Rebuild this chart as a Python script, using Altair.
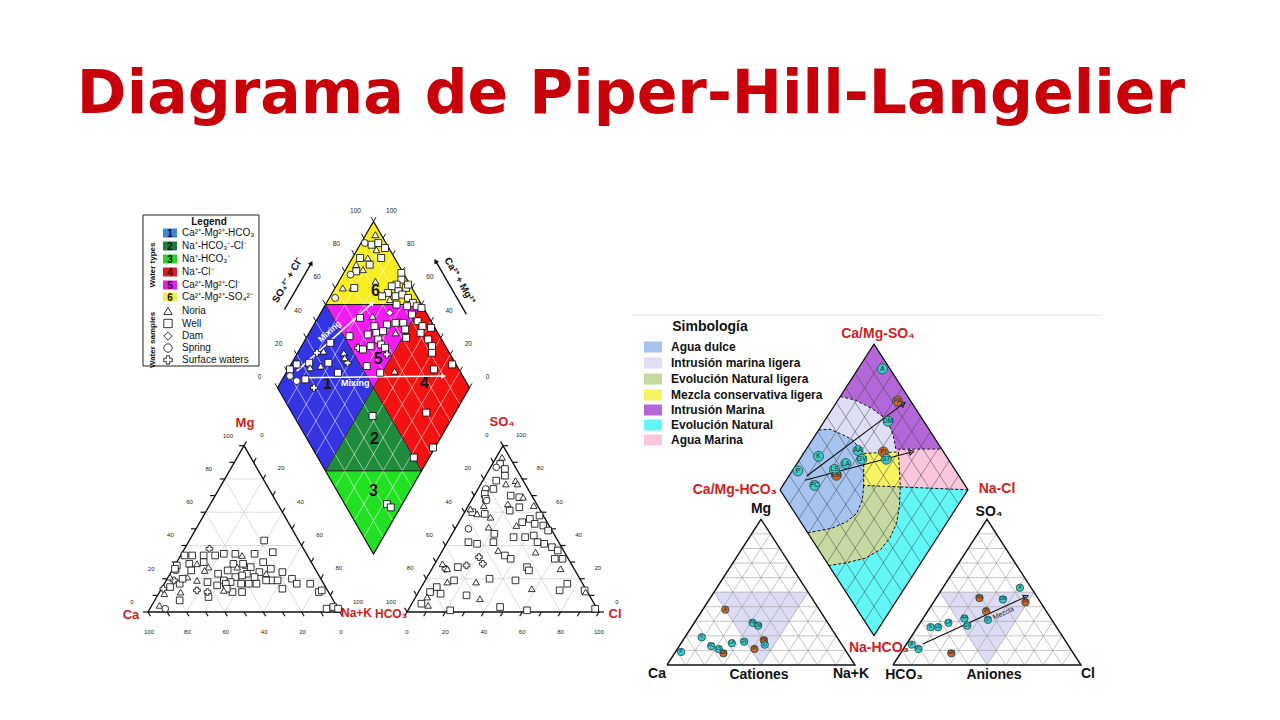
import math
import pandas as pd
import altair as alt

# =========================== DATA ===========================
TITLE = "Diagrama de Piper-Hill-Langelier"

# ---------- Figure 1 (left) ----------
F1_TYPE_NUMBERS = ["1", "2", "3", "4", "5", "6"]
F1_TYPE_LABELS = ["Ca²⁺-Mg²⁺-HCO₃", "Na⁺-HCO₃⁻-Cl⁻", "Na⁺-HCO₃⁻", "Na⁺-Cl⁻",
                  "Ca²⁺-Mg²⁺-Cl⁻", "Ca²⁺-Mg²⁺-SO₄²⁻"]
F1_SAMPLE_NAMES = ["Noria", "Well", "Dam", "Spring", "Surface waters"]
F1_SAMPLE_CODES = ["T", "W", "D", "S", "P"]
F1_TICK_VALUES = [0, 20, 40, 60, 80, 100]

# water-type fields of the diamond, corners as (Na+K %, SO4+Cl %)
F1_FIELDS = [
    [(0, 0), (0, 50), (50, 50), (50, 0)],          # 1
    [(50, 50), (50, 0), (100, 50)],                # 2
    [(50, 0), (100, 0), (100, 50)],                # 3
    [(50, 50), (50, 100), (100, 100), (100, 50)],  # 4
    [(0, 50), (50, 100), (50, 50)],                # 5
    [(0, 100), (0, 50), (50, 100)],                # 6
]
F1_FIELD_LABEL_NAK = [25, 66, 81, 75, 44, 22]
F1_FIELD_LABEL_ANI = [27, 35, 19, 78, 61, 80]

# diamond samples: Na+K %, SO4+Cl %, kind
D1_NAK = [5, 2, 6, 9, 10, 14, 4, 8, 15, 4, 6, 4, 9, 11, 9, 4, 10, 3, 19, 30,
          32, 31, 29, 34, 37, 37, 29, 34, 37, 41, 45, 43, 48, 51, 37, 32, 27, 36,
          22, 28, 32, 38, 42, 46, 48, 31, 35, 38, 45, 49, 22, 30, 33, 36, 38, 41, 44, 47, 40, 49, 52,
          53, 57, 62, 58, 64, 68, 70, 84, 76, 56, 85, 99, 92,
          1, 3, 3, 8, 12, 9, 10, 13, 14, 16, 19, 27, 24, 29, 26, 19, 11,
          58, 92, 95]
D1_ANI = [97, 89, 92, 96, 93, 98, 82, 86, 93, 78, 76, 72, 80, 85, 69, 64, 70, 57, 83, 99,
          97, 93, 90, 92, 97, 99, 86, 89, 93, 95, 96, 92, 97, 99, 87, 85, 82, 81,
          64, 71, 69, 76, 81, 85, 92, 63, 68, 72, 78, 84, 53, 54, 56, 61, 67, 67, 68, 67, 53, 58, 82,
          93, 94, 98, 91, 93, 93, 91, 98, 87, 66, 70, 63, 50,
          12, 17, 10, 12, 17, 24, 31, 35, 41, 29, 34, 36, 45, 44, 44, 19, 23,
          41, 22, 23]
D1_KIND = ("TSWWTWWTWT" "WSTWTTWSTW" "WWWWWWWWWW" "WWWWWTWD"
           "WTWWWWWWWWTWWPWWWWWPWWW" "WWWWWWWWWTWWW" "WWSSWWPTWTWWTPTPT" "WWW")

# cation triangle samples: Mg %, Na+K %, kind
C1_MG = [43, 36, 35, 35, 34, 35, 34, 38, 34, 34, 34, 28, 29, 29, 30, 27, 29, 28, 30, 26,
         24, 20, 17, 17, 12, 13, 14, 19, 23, 24, 21, 23, 22, 21, 18, 19, 16, 17, 17, 17,
         17, 19, 19, 12, 12, 9, 12, 18, 19, 13, 17, 7, 12, 15, 19, 25, 26, 21, 11, 14,
         4, 2, 2, 3, 2, 21, 20, 25, 25, 23, 25, 27, 29, 27, 14, 13]
C1_NAK = [39, 47, 38, 22, 18, 28, 32, 13, 2, 6, 12, 1, 7, 11, 14, 18, 30, 37, 45, 51,
          58, 65, 69, 76, 83, 84, 63, 55, 50, 46, 45, 40, 38, 35, 34, 30, 28, 32, 40, 44,
          48, 52, 58, 43, 38, 27, 25, 22, 16, 19, 8, 13, 11, 4, 4, 2, 1, 1, 3, 1,
          4, 8, 92, 95, 98, 10, 8, 10, 17, 25, 29, 33, 35, 40, 34, 33]
C1_KIND = ("WWWWWWTPWW" "WWWTWTWTWW" "WWWWWWWWTW" "WWWWWWWWWW"
           "WWWWWWPWTP" "WWTWPSWTTP" "TSWWWTWWTW" "WTWWWT")

# anion triangle samples: SO4 %, Cl %, kind
A1_SO4 = [93, 89, 87, 86, 82, 77, 79, 79, 77, 74, 71, 74, 64, 68, 67, 60, 59, 57, 59, 62,
          70, 69, 69, 65, 61, 63, 64, 58, 54, 52, 56, 53, 52, 49, 50, 51, 42, 41, 47, 42,
          45, 45, 46, 42, 41, 39, 37, 37, 34, 32, 36, 32, 32, 33, 29, 28, 27, 26, 29, 26,
          27, 25, 26, 19, 18, 20, 18, 19, 15, 12, 11, 9, 5, 4, 10, 8, 14, 17, 13, 13,
          1, 3, 1, 2, 12]
A1_CL = [3, 4, 3, 8, 10, 13, 7, 17, 19, 4, 5, 8, 8, 7, 8, 4, 7, 15, 11, 2,
         19, 24, 26, 20, 23, 27, 34, 40, 33, 31, 36, 40, 45, 49, 7, 17, 11, 16, 22, 24,
         33, 39, 43, 47, 51, 56, 60, 29, 34, 38, 49, 61, 65, 21, 25, 17, 13, 7, 4, 8,
         49, 51, 67, 15, 12, 33, 27, 47, 8, 6, 12, 6, 5, 9, 26, 34, 58, 75, 73, 86,
         22, 47, 62, 97, 87]
A1_KIND = ("TWSWWTWTTS" "WWTWSWTTWT" "WWTTWWTWWT" "WWWWSTWWWW"
           "WWWWWWWTWW" "TWWPPPWPTT" "WWTWTWTWWW" "WTWTWTTWWW" "WWWWT")

# mixing arrows (Na+K %, SO4+Cl %)
F1_MIX_ARROWS = [((5, 15), (24, 75)), ((10, 16), (83, 90))]
F1_MIX_LABELS = [(10, 44), (39, 42)]

# ---------- Figure 2 (right) ----------
F2_REGIONS = ["Agua dulce", "Intrusión marina ligera", "Evolución Natural ligera",
              "Mezcla conservativa ligera", "Intrusión Marina", "Evolución Natural", "Agua Marina"]
F2_REGION_SHAPES = {
    "Intrusión Marina": [(0, 0), (0, 100), (100, 100), (100, 0)],
    "Intrusión marina ligera": [(0, 0), (0, 64), (9, 70.7), (20.8, 76.7), (30, 80), (38, 80),
                                (43.7, 77.9), (47.6, 75.5), (50, 76), (63, 65)],
    "Agua Marina": [(47.6, 75.5), (72, 100), (100, 100), (63, 65), (50, 76)],
    "Evolución Natural": [(63, 65), (100, 100), (100, 0), (52, 0), (60.5, 10.5), (68.7, 21.7),
                          (74, 33), (75, 42), (73.5, 50.5), (69, 58)],
    "Evolución Natural ligera": [(43, 46), (63, 65), (69, 58), (73.5, 50.5), (75, 42), (74, 33),
                                 (68.7, 21.7), (60.5, 10.5), (52, 0), (29.5, 0), (34.4, 6.3),
                                 (40.7, 14.3), (46.4, 24.5), (48.9, 32.8), (47.3, 40.3)],
    "Mezcla conservativa ligera": [(32, 57), (50, 76), (63, 65), (43, 46)],
    "Agua dulce": [(0, 0), (0, 41), (5.8, 47.4), (14, 52), (20.8, 55.5), (26.9, 56.5), (32, 57),
                   (43, 46), (47.3, 40.3), (48.9, 32.8), (46.4, 24.5), (40.7, 14.3), (34.4, 6.3),
                   (29.5, 0)],
}
F2_DRAW_ORDER = ["Intrusión Marina", "Intrusión marina ligera", "Agua Marina", "Evolución Natural",
                 "Evolución Natural ligera", "Mezcla conservativa ligera", "Agua dulce"]
F2_BOUNDARIES = [
    [(0, 64), (9, 70.7), (20.8, 76.7), (30, 80), (38, 80), (43.7, 77.9), (47.6, 75.5), (72, 100)],
    [(0, 41), (5.8, 47.4), (14, 52), (20.8, 55.5), (26.9, 56.5), (32, 57)],
    [(32, 57), (50, 76), (63, 65), (43, 46), (32, 57)],
    [(43, 46), (47.3, 40.3), (48.9, 32.8), (46.4, 24.5), (40.7, 14.3), (34.4, 6.3), (29.5, 0)],
    [(63, 65), (69, 58), (73.5, 50.5), (75, 42), (74, 33), (68.7, 21.7), (60.5, 10.5), (52, 0)],
    [(63, 65), (100, 100)],
]

F2_DIA_NAMES = ["A", "PA", "DM", "AA", "PI", "GV", "S7", "LA", "EM", "LS", "K", "P", "PC"]
F2_DIA_NAK = [13, 32, 34, 28, 42, 33, 46, 26, 25, 22, 9, 3, 17]
F2_DIA_ANI = [96, 93, 81, 55, 68, 54, 67, 44, 35, 36, 32, 16, 20]
F2_DIA_GRP = ["t", "o", "t", "t", "o", "t", "t", "t", "o", "t", "t", "t", "t"]

F2_CAT_NAMES = ["A", "PA", "DM", "K", "P", "PC", "EM", "LS", "LA", "GV", "PI", "PM", "S7"]
F2_CAT_MG = [38, 29, 27, 19, 9, 13, 8, 11, 15, 16, 11, 17, 14]
F2_CAT_NAK = [12, 31, 35, 9, 3, 17, 26, 22, 27, 33, 41, 43, 45]
F2_CAT_GRP = ["o", "t", "t", "t", "t", "t", "o", "t", "t", "t", "o", "o", "t"]

F2_ANI_NAMES = ["A", "PM", "DM", "PA", "PI", "S7", "AA", "GV", "LA", "K", "LS", "P", "PC", "EM"]
F2_ANI_SO4 = [53, 46, 45, 43, 37, 31, 32, 27, 29, 26, 26, 14, 11, 8]
F2_ANI_CL = [41, 23, 36, 49, 31, 35, 22, 26, 15, 7, 11, 3, 8, 27]
F2_ANI_GRP = ["t", "o", "t", "o", "o", "t", "t", "t", "t", "t", "t", "t", "t", "o"]

F2_DIA_ARROWS = [((9.5, 19), (36, 95)), ((10, 16.6), (57, 83))]
F2_ANI_ARROW = ((14.4, 8.6), (46.9, 47.3))
F2_ANI_ARROW_LABEL = (35.5, 41)

# =========================== STYLE ===========================
RED_TITLE = "#c8000a"
RED_LAB = "#d02020"
F1_FIELD_COLORS = ["#3434e2", "#1f8c3c", "#22e022", "#f21212", "#f21cf2", "#f6ee22"]
F1_CHIP_COLORS = ["#3a86d8", "#1e7a3e", "#2bd42b", "#d81e1e", "#e61ee6", "#f5ee50"]
F2_COLORS = {"Agua dulce": "#a7c3f0", "Intrusión marina ligera": "#dedff7",
             "Evolución Natural ligera": "#c5d9a1", "Mezcla conservativa ligera": "#f6f462",
             "Intrusión Marina": "#b467d8", "Evolución Natural": "#62f6f6", "Agua Marina": "#f9c6dd"}
TEAL, ORANGE = "#3ec9c9", "#d2642a"
SHAPES = {"T": "triangle-up", "W": "square", "D": "diamond", "S": "circle", "P": "cross"}
ARIAL = "Liberation Sans"

# =========================== GEOMETRY ===========================
SQ = math.sqrt(3) / 2


class Piper:
    def __init__(self, x0, base, side, gap, k=1.0):
        self.x0, self.base, self.side, self.gap, self.k = x0, base, side, gap, k
        self.h = side * SQ * k
        self.ax0 = x0 + side + gap
        bx = x0 + side + gap / 2
        by = base - (gap / 2) * math.sqrt(3) * k
        self.L = (bx - side / 2, by - self.h)

    def cat(self, mg, na):
        return (self.x0 + self.side * (na + mg / 2) / 100, self.base - self.h * mg / 100)

    def ani(self, so4, cl):
        return (self.ax0 + self.side * (cl + so4 / 2) / 100, self.base - self.h * so4 / 100)

    def dia(self, n, a):
        return (self.L[0] + self.side / 2 * (n + a) / 100, self.L[1] + self.h * (n - a) / 100)

    def tri(self, which, p, q):
        return self.cat(p, q) if which == "c" else self.ani(p, q)


P1 = Piper(x0=148, base=612, side=192, gap=67)
P2 = Piper(x0=667, base=665, side=188, gap=38, k=0.895)

XS = alt.Scale(domain=[8, 1272], nice=False, zero=False)
YS = alt.Scale(domain=[8, 712], nice=False, zero=False, reverse=True)
X = alt.X("x:Q", scale=XS, axis=None)
Y = alt.Y("y:Q", scale=YS, axis=None)


def pdf(paths):
    rows = []
    for g, pts in enumerate(paths):
        for i, (x, y) in enumerate(pts):
            rows.append({"x": x, "y": y, "g": g, "i": i})
    return pd.DataFrame(rows)


def lines(paths, **mk):
    return alt.Chart(pdf(paths)).mark_line(**mk).encode(x=X, y=Y, detail="g:N", order="i:Q")


def poly(pts, color, opacity=1.0):
    pts = list(pts) + [pts[0]]
    return alt.Chart(pdf([pts])).mark_line(
        fill=color, stroke=color, strokeWidth=0.4, fillOpacity=opacity, strokeOpacity=opacity
    ).encode(x=X, y=Y, order="i:Q")


def segs(seglist, **mk):
    df = pd.DataFrame(seglist, columns=["x", "y", "x2", "y2"])
    return alt.Chart(df).mark_rule(**mk).encode(x=X, y=Y, x2="x2:Q", y2="y2:Q")


def rects(rows, **mk):
    df = pd.DataFrame(rows, columns=["x", "y", "x2", "y2", "c"])
    return alt.Chart(df).mark_rect(**mk).encode(
        x=X, y=Y, x2="x2:Q", y2="y2:Q", fill=alt.Fill("c:N", scale=None))


def texts(rows, **mk):
    df = pd.DataFrame(rows, columns=["x", "y", "t"])
    return alt.Chart(df).mark_text(**mk).encode(x=X, y=Y, text="t:N")


def heading(p, q):
    dx, dy = q[0] - p[0], q[1] - p[1]
    return math.degrees(math.atan2(dx, -dy)) % 360


def arrowheads(pairs, color, size, filled=True):
    rows = [{"x": q[0], "y": q[1], "ang": heading(p, q)} for p, q in pairs]
    return alt.Chart(pd.DataFrame(rows)).mark_point(
        shape="triangle-up", filled=filled, color=color, size=size, opacity=1, strokeWidth=1
    ).encode(x=X, y=Y, angle=alt.Angle("ang:Q", scale=None))


def sample_points(xy, kinds, size):
    df = pd.DataFrame({"x": [p[0] for p in xy], "y": [p[1] for p in xy], "k": list(kinds)})
    return alt.Chart(df).mark_point(
        filled=True, fill="white", stroke="black", strokeWidth=0.8, size=size, opacity=1
    ).encode(x=X, y=Y, shape=alt.Shape(
        "k:N", scale=alt.Scale(domain=F1_SAMPLE_CODES, range=[SHAPES[c] for c in F1_SAMPLE_CODES]),
        legend=None))


def labeled_circles(xy, names, groups, size, fs):
    df = pd.DataFrame({"x": [p[0] for p in xy], "y": [p[1] for p in xy], "n": names, "g": groups})
    pts = alt.Chart(df).mark_point(
        filled=True, shape="circle", size=size, stroke="#1d4848", strokeWidth=0.8, opacity=1
    ).encode(x=X, y=Y, fill=alt.Fill("g:N", scale=alt.Scale(domain=["t", "o"], range=[TEAL, ORANGE]),
                                       legend=None))
    lab = alt.Chart(df).mark_text(fontSize=fs, font=ARIAL, color="#0d2a2a").encode(x=X, y=Y, text="n:N")
    return [pts, lab]


def tri_grid(P, which, step):
    out = []
    for v in range(step, 100, step):
        out.append((*P.tri(which, v, 0), *P.tri(which, v, 100 - v)))
        out.append((*P.tri(which, 0, v), *P.tri(which, 100 - v, v)))
        out.append((*P.tri(which, 0, 100 - v), *P.tri(which, 100 - v, 0)))
    return out


def tri_outline(P, which):
    return [[P.tri(which, 0, 0), P.tri(which, 0, 100), P.tri(which, 100, 0), P.tri(which, 0, 0)]]


def dia_outline(P):
    return [[P.dia(0, 0), P.dia(0, 100), P.dia(100, 100), P.dia(100, 0), P.dia(0, 0)]]


def dia_lattice(P):
    out = []
    for v in range(10, 100, 10):
        out.append((*P.dia(v, 0), *P.dia(v, 100)))
        out.append((*P.dia(0, v), *P.dia(100, v)))
    return out


layers = []

# ---- title ----
layers.append(texts([(631, 113, TITLE)], fontSize=60, font="DejaVu Sans", fontWeight="bold",
                    color=RED_TITLE, baseline="alphabetic"))

# =========================== FIGURE 1 ===========================
for corners, col in zip(F1_FIELDS, F1_FIELD_COLORS):
    layers.append(poly([P1.dia(n, a) for n, a in corners], col))
layers.append(segs(dia_lattice(P1), color="white", strokeWidth=0.7, opacity=0.75))
layers.append(segs([(*P1.dia(0, 50), *P1.dia(100, 50)), (*P1.dia(50, 0), *P1.dia(50, 100)),
                    (*P1.dia(0, 50), *P1.dia(50, 100)), (*P1.dia(50, 0), *P1.dia(100, 50))],
                   color="#111", strokeWidth=1))
layers.append(lines(dia_outline(P1), color="#111", strokeWidth=1.2))

# diamond ticks + labels
ul_n = (-SQ, -0.5)
ur_n = (SQ, -0.5)
tk = []
for v in range(0, 101, 10):
    x, y = P1.dia(0, v)
    tk.append((x, y, x - 2.5, y - 4.3))
    x, y = P1.dia(v, 100)
    tk.append((x, y, x + 2.5, y - 4.3))
layers.append(segs(tk, color="#111", strokeWidth=1))
lab = []
for v in F1_TICK_VALUES:
    x, y = P1.dia(0, v)
    lab.append((x - 18, y - 10.5, str(v)))
    x, y = P1.dia(100 - v, 100)
    lab.append((x + 18, y - 10.5, str(v)))
layers.append(texts(lab, fontSize=6.5, font=ARIAL, color="#222"))


def ul_point(v, d):
    x, y = P1.dia(0, v)
    return (x + ul_n[0] * d, y + ul_n[1] * d)


def ur_point(v, d):
    x, y = P1.dia(100 - v, 100)
    return (x + ur_n[0] * d, y + ur_n[1] * d)


side_arrows = [(ul_point(37, 33), ul_point(65, 33)), (ur_point(34, 34), ur_point(66, 34))]
layers.append(lines([list(a) for a in side_arrows], color="#111", strokeWidth=1.4))
layers.append(arrowheads(side_arrows, "#111", 30))
lx, ly = ul_point(51, 45)
layers.append(texts([(lx, ly, "SO₄²⁻ + Cl⁻")], fontSize=10, font=ARIAL, fontWeight="bold",
                    color="#111", angle=300))
rx, ry = ur_point(51, 45)
layers.append(texts([(rx, ry, "Ca²⁺ + Mg²⁺")], fontSize=10, font=ARIAL, fontWeight="bold",
                    color="#111", angle=60))

# field numbers
layers.append(texts([(*P1.dia(n, a), t) for n, a, t in zip(F1_FIELD_LABEL_NAK, F1_FIELD_LABEL_ANI,
                                                             F1_TYPE_NUMBERS)],
                    fontSize=16, font=ARIAL, fontWeight="bold", color="#161616"))

# mixing arrows
mix = [(P1.dia(*p), P1.dia(*q)) for p, q in F1_MIX_ARROWS]
layers.append(lines([list(m) for m in mix], color="white", strokeWidth=1.6))
layers.append(arrowheads(mix, "white", 30))

# diamond samples
layers.append(sample_points([P1.dia(n, a) for n, a in zip(D1_NAK, D1_ANI)], D1_KIND, 48))

mlab1 = P1.dia(*F1_MIX_LABELS[0])
mlab2 = P1.dia(*F1_MIX_LABELS[1])
layers.append(texts([(mlab1[0], mlab1[1], "Mixing")], fontSize=8.5, font=ARIAL, fontWeight="bold",
                    color="white", angle=round(heading(*mix[0]) - 90) % 360))
layers.append(texts([(mlab2[0], mlab2[1], "Mixing")], fontSize=9, font=ARIAL, fontWeight="bold",
                    color="white"))

# ternary triangles
for which in ["c", "a"]:
    layers.append(segs(tri_grid(P1, which, 20), color="#cfcfcf", strokeWidth=0.7))
    layers.append(lines(tri_outline(P1, which), color="#111", strokeWidth=1.4))

tk = []
for v in range(0, 101, 10):
    x, y = P1.cat(v, 0); tk.append((x, y, x - 5, y))
    x, y = P1.cat(100 - v, v); tk.append((x, y, x + 2.5, y - 4.3))
    x, y = P1.cat(0, v); tk.append((x, y, x + 2.5, y + 4.3))
    x, y = P1.ani(100 - v, 0); tk.append((x, y, x - 2.5, y - 4.3))
    x, y = P1.ani(v, 100 - v); tk.append((x, y, x + 5, y))
    x, y = P1.ani(0, v); tk.append((x, y, x - 2.5, y + 4.3))
layers.append(segs(tk, color="#111", strokeWidth=1.2))

lab = []
for v in F1_TICK_VALUES:
    x, y = P1.cat(v, 0); lab.append((x - 16, y - 10, str(v)))
    x, y = P1.cat(100 - v, v); lab.append((x + 18, y - 10.5, str(v)))
    x, y = P1.cat(0, 100 - v); lab.append((x + 1, y + 20, str(v)))
    x, y = P1.ani(100 - v, 0); lab.append((x - 16, y - 10.5, str(v)))
    x, y = P1.ani(v, 100 - v); lab.append((x + 18, y - 10.5, str(v)))
    x, y = P1.ani(0, v); lab.append((x, y + 20, str(v)))
layers.append(texts(lab, fontSize=6, font=ARIAL, color="#222"))

layers.append(sample_points([P1.cat(m, n) for m, n in zip(C1_MG, C1_NAK)], C1_KIND, 44))
layers.append(sample_points([P1.ani(s, c) for s, c in zip(A1_SO4, A1_CL)], A1_KIND, 44))

# ternary axis names
layers.append(texts([(245, 423, "Mg"), (131, 615, "Ca"), (502, 422, "SO₄"), (615, 614, "Cl")],
                    fontSize=13, font=ARIAL, fontWeight="bold", color=RED_LAB))
layers.append(texts([(372, 613, "Na+K")], fontSize=12, font=ARIAL, fontWeight="bold",
                    color=RED_LAB, align="right"))
layers.append(texts([(375, 614, "HCO₃")], fontSize=12, font=ARIAL, fontWeight="bold",
                    color=RED_LAB, align="left"))

# legend box
layers.append(rects([(143, 215, 259, 366, "white")], stroke="#222", strokeWidth=1))
layers.append(texts([(209, 222, "Legend")], fontSize=10, font=ARIAL, fontWeight="bold", color="#111"))
layers.append(texts([(153, 265, "Water types"), (153, 340, "Water samples")], fontSize=8,
                    font=ARIAL, fontWeight="bold", color="#111", angle=270))
row_y = [233, 246, 259, 272, 285, 297]
layers.append(rects([(163, y - 4.5, 177, y + 4.5, c) for y, c in zip(row_y, F1_CHIP_COLORS)]))
layers.append(texts([(170, y + 0.5, n) for y, n in zip(row_y, F1_TYPE_NUMBERS)], fontSize=10,
                    font=ARIAL, fontWeight="bold", color="#111"))
layers.append(texts([(182, y, t) for y, t in zip(row_y, F1_TYPE_LABELS)], fontSize=10, font=ARIAL,
                    color="#111", align="left"))
sym_y = [311, 323.5, 336, 348, 360]
layers.append(sample_points([(168, y) for y in sym_y], F1_SAMPLE_CODES, 70))
layers.append(texts([(182, y, t) for y, t in zip(sym_y, F1_SAMPLE_NAMES)], fontSize=10, font=ARIAL,
                    color="#111", align="left"))

# =========================== FIGURE 2 ===========================
layers.append(segs([(632, 315, 1102, 315)], color="#e6e6e6", strokeWidth=1))
for name in F2_DRAW_ORDER:
    layers.append(poly([P2.dia(n, a) for n, a in F2_REGION_SHAPES[name]], F2_COLORS[name]))
layers.append(segs(dia_lattice(P2), color="#3a3a3a", strokeWidth=0.6, opacity=0.8))
layers.append(lines([[P2.dia(n, a) for n, a in b] for b in F2_BOUNDARIES], color="#111",
                    strokeWidth=1, strokeDash=[3, 2]))
layers.append(lines(dia_outline(P2), color="#111", strokeWidth=1.2))

for which in ["c", "a"]:
    layers.append(poly([P2.tri(which, 50, 0), P2.tri(which, 50, 50), P2.tri(which, 0, 50)],
                       "#dcdcf5"))
    layers.append(segs(tri_grid(P2, which, 10), color="#9c9c9c", strokeWidth=0.6))
    layers.append(lines(tri_outline(P2, which), color="#111", strokeWidth=1.4))

d_arrows = [(P2.dia(*p), P2.dia(*q)) for p, q in F2_DIA_ARROWS]
a_arrow = [(P2.ani(*F2_ANI_ARROW[0]), P2.ani(*F2_ANI_ARROW[1]))]
layers.append(lines([list(a) for a in d_arrows + a_arrow], color="#111", strokeWidth=1.1))
layers.append(arrowheads(d_arrows + a_arrow, "#111", 28, filled=False))
mz = P2.ani(*F2_ANI_ARROW_LABEL)
layers.append(texts([(mz[0], mz[1], "Mezcla")], fontSize=7, font=ARIAL, color="#222",
                    angle=round(heading(*a_arrow[0]) - 90) % 360))

layers += labeled_circles([P2.dia(n, a) for n, a in zip(F2_DIA_NAK, F2_DIA_ANI)],
                          F2_DIA_NAMES, F2_DIA_GRP, 100, 6.5)
layers += labeled_circles([P2.cat(m, n) for m, n in zip(F2_CAT_MG, F2_CAT_NAK)],
                          F2_CAT_NAMES, F2_CAT_GRP, 55, 4.5)
layers += labeled_circles([P2.ani(s, c) for s, c in zip(F2_ANI_SO4, F2_ANI_CL)],
                          F2_ANI_NAMES, F2_ANI_GRP, 55, 4.5)

layers.append(texts([(878, 334, "Ca/Mg-SO₄"), (997, 489, "Na-Cl"), (879, 648, "Na-HCO₃")],
                    fontSize=14, font=ARIAL, fontWeight="bold", color=RED_LAB))
layers.append(texts([(777, 490, "Ca/Mg-HCO₃")], fontSize=14, font=ARIAL, fontWeight="bold",
                    color=RED_LAB, align="right"))
layers.append(texts([(761, 509, "Mg"), (989, 512, "SO₄"), (657, 674, "Ca"), (759, 675, "Cationes"),
                     (851, 674, "Na+K"), (904, 675, "HCO₃"), (994, 675, "Aniones"), (1088, 674, "Cl")],
                    fontSize=14, font=ARIAL, fontWeight="bold", color="#111"))

# Simbología legend
layers.append(texts([(710, 327, "Simbología")], fontSize=14, font=ARIAL, fontWeight="bold",
                    color="#111"))
leg_y = [347, 363, 379, 395, 410, 425, 440]
layers.append(rects([(644, y - 5.5, 662, y + 5.5, F2_COLORS[n]) for y, n in zip(leg_y, F2_REGIONS)]))
layers.append(texts([(671, y, n) for y, n in zip(leg_y, F2_REGIONS)], fontSize=12, font=ARIAL,
                    fontWeight="bold", color="#111", align="left"))

chart = alt.layer(*layers).properties(
    width=1264, height=704, padding=0, background="white",
    autosize=alt.AutoSizeParams(type="none"),
).configure_view(stroke=None)

chart.save("out.html", embed_options={"renderer": "svg", "actions": False})
